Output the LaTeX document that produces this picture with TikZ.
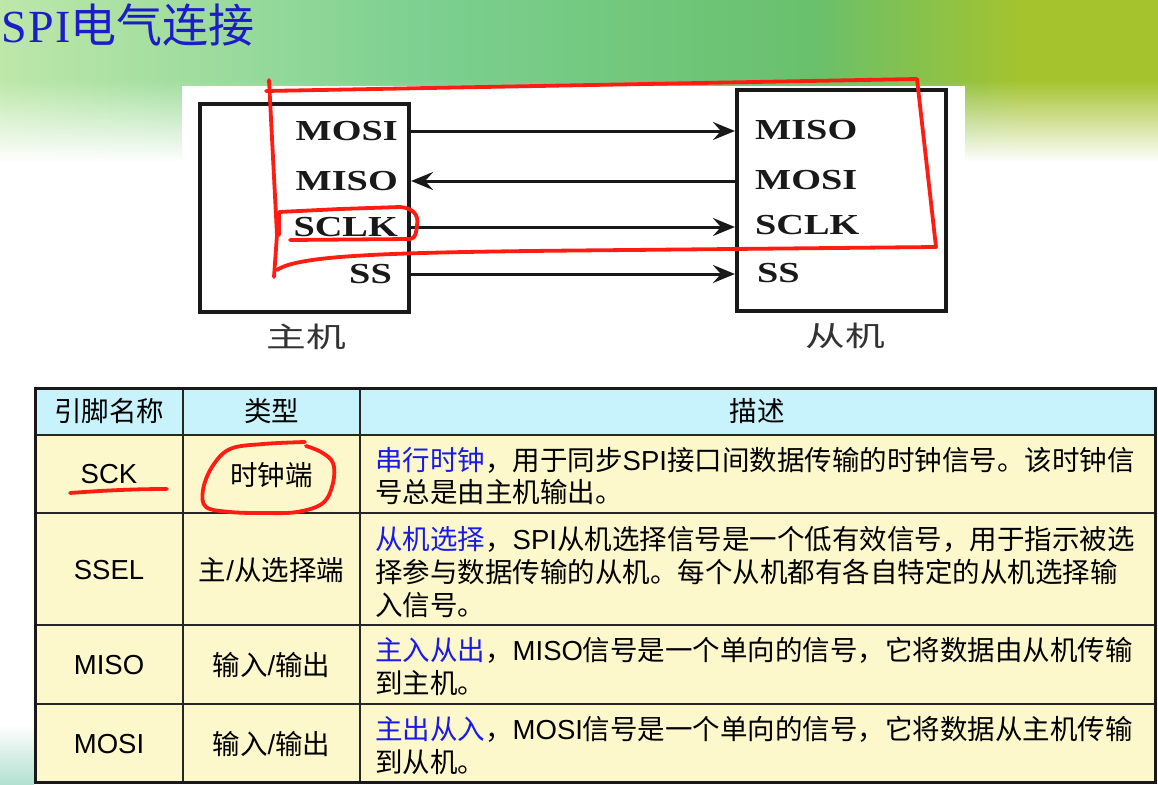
\documentclass[tikz,border=0pt]{standalone}
\usepackage{graphicx}
\usepackage{fontspec}
\setmainfont{Noto Sans CJK SC}
\newfontfamily\latf{Liberation Sans}
\newfontfamily\pinf{Liberation Serif}
\usetikzlibrary{arrows.meta,fadings}

\definecolor{titleblue}{RGB}{28,28,200}
\definecolor{descblue}{RGB}{25,25,235}
\definecolor{pen}{RGB}{255,28,18}
\definecolor{headfill}{RGB}{200,243,252}
\definecolor{bodyfill}{RGB}{253,248,204}
\definecolor{bgleft}{RGB}{190,232,170}
\definecolor{bgmid}{RGB}{125,208,145}
\definecolor{bgmidb}{RGB}{105,192,108}
\definecolor{bgright}{RGB}{165,195,45}
\definecolor{tealtint}{RGB}{170,222,205}

% the visible part of a TikZ shading runs from 25bp to 75bp
\pgfdeclarehorizontalshading{bgband}{100bp}{
  color(0bp)=(bgleft); color(25bp)=(bgleft); color(43bp)=(bgmid);
  color(60bp)=(bgmidb); color(69bp)=(bgright); color(100bp)=(bgright)}
\tikzfading[name=fadedown, top color=transparent!100, bottom color=transparent!0]

% horizontally stretched text, as in the scanned connection sketch
\newcommand{\widepin}[1]{\scalebox{1.32}[1]{#1}}
\newcommand{\widezh}[1]{\scalebox{1.42}[1]{#1}}

\begin{document}
\begin{tikzpicture}[x=1pt,y=-1pt,
  pinlabel/.style={font=\pinf\bfseries\fontsize{29}{30}\selectfont, inner sep=0pt, text=black!90},
  boxlabel/.style={font=\fontsize{28}{30}\selectfont, inner sep=0pt, text=black!80},
  devbox/.style={draw=black!90, line width=4.2pt, inner sep=0pt},
  sig/.style={line width=3pt, draw=black!90, -{Stealth[length=22pt,width=18pt,inset=8pt]}},
  cell/.style={font=\fontsize{27.5}{30}\selectfont, inner sep=0pt, text=black},
  desc/.style={cell, anchor=west},
  pen/.style={draw=pen, line width=3.8pt, line cap=round, line join=round},
]
\useasboundingbox (0,0) rectangle (1158,784);
\fill[white] (-5,-5) rectangle (1165,790);

% slide background: green band fading into white
\shade[shading=bgband] (-5,-5) rectangle (1165,175);
\fill[white, path fading=fadedown] (-5,80) rectangle (1165,162);
\fill[white] (-5,161) rectangle (1165,176);
\fill[tealtint, path fading=fadedown] (-5,725) rectangle (34,790);

% title
\node[anchor=west, inner sep=0pt, text=titleblue] (title) at (1,25)
  {\fontsize{46}{50}\selectfont{\pinf S\kern1.5pt P\kern1.5pt I}电气连接};

% connection sketch
\fill[white] (182,86) rectangle (965,365);
\node[devbox, minimum width=209pt, minimum height=208pt] (master) at (304.5,208) {};
\node[devbox, minimum width=209pt, minimum height=221pt] (slave) at (841.5,200.5) {};

\node[pinlabel, anchor=east] (mMOSI) at (398,131) {\widepin{MOSI}};
\node[pinlabel, anchor=east] (mMISO) at (398,181) {\widepin{MISO}};
\node[pinlabel, anchor=east] (mSCLK) at (398,227) {\widepin{SCLK}};
\node[pinlabel, anchor=east] (mSS)   at (392,274) {\widepin{SS}};

\node[pinlabel, anchor=west] (sMISO) at (755,130) {\widepin{MISO}};
\node[pinlabel, anchor=west] (sMOSI) at (755,180) {\widepin{MOSI}};
\node[pinlabel, anchor=west] (sSCLK) at (755,225) {\widepin{SCLK}};
\node[pinlabel, anchor=west] (sSS)   at (757,273) {\widepin{SS}};

\draw[sig] (master.east |- mMOSI) -- (slave.west |- mMOSI);
\draw[sig] (slave.west |- mMISO) -- (master.east |- mMISO);
\draw[sig] (master.east |- mSCLK) -- (slave.west |- mSCLK);
\draw[sig] (master.east |- mSS) -- (slave.west |- mSS);

\node[boxlabel] (masterlabel) at (306,337) {\widezh{主机}};
\node[boxlabel] (slavelabel) at (845,336) {\widezh{从机}};

% table
\fill[headfill] (35,388) rectangle (1155,435);
\fill[bodyfill] (35,435) rectangle (1155,782);
\draw[line width=1.3pt, black!85]
  (35,435) -- (1155,435)
  (35,513) -- (1155,513)
  (35,625) -- (1155,625)
  (35,704) -- (1155,704)
  (183,388) -- (183,782)
  (360,388) -- (360,782);
\draw[line width=3pt, black!90] (35,388) rectangle (1155,782);

\node[cell] (h1) at (109,411) {引脚名称};
\node[cell] (h2) at (271.5,411) {类型};
\node[cell] (h3) at (757,411) {描述};

\node[cell] (n1) at (109,474) {\latf SCK};
\node[cell] (n2) at (109,570) {\latf SSEL};
\node[cell] (n3) at (109,665) {\latf MISO};
\node[cell] (n4) at (109,744) {\latf MOSI};

\node[cell] (t1) at (271.5,475) {时钟端};
\node[cell] (t2) at (271.5,570) {主{\latf /}从选择端};
\node[cell] (t3) at (271.5,665) {输入{\latf /}输出};
\node[cell] (t4) at (271.5,744) {输入{\latf /}输出};

\node[desc] (d1a) at (375,460) {{\color{descblue}串行时钟}，用于同步{\latf SPI}接口间数据传输的时钟信号。该时钟信};
\node[desc] (d1b) at (375,492) {号总是由主机输出。};
\node[desc] (d2a) at (375,539) {{\color{descblue}从机选择}，{\latf SPI}从机选择信号是一个低有效信号，用于指示被选};
\node[desc] (d2b) at (375,572) {择参与数据传输的从机。每个从机都有各自特定的从机选择输};
\node[desc] (d2c) at (375,605) {入信号。};
\node[desc] (d3a) at (375,650) {{\color{descblue}主入从出}，{\latf MISO}信号是一个单向的信号，它将数据由从机传输};
\node[desc] (d3b) at (375,683) {到主机。};
\node[desc] (d4a) at (375,729) {{\color{descblue}主出从入}，{\latf MOSI}信号是一个单向的信号，它将数据从主机传输};
\node[desc] (d4b) at (375,762) {到从机。};

% red pen marks
\draw[pen] (269,80) -- (277,235) -- (274,277);
\draw[pen] (266,91) -- (917,79) -- (936,247) -- (630,250)
  .. controls (400,252) and (300,254) .. (277,270);
\draw[pen] (279,235) -- (279,212) -- (340,209) -- (400,207)
  .. controls (414,208) and (419,216) .. (417,225)
  .. controls (416,233) and (416,238) .. (410,239) -- (290,240);
\draw[pen] (70,493) .. controls (110,490) and (140,489) .. (167,489);
\draw[pen] plot[smooth, tension=0.6] coordinates {(305,442) (263,444) (230,449) (212,467) (203,490) (206,507) (230,512) (263,513) (297,512) (323,503) (333,483) (333,463) (321,452) (306,446)};
\end{tikzpicture}
\end{document}
